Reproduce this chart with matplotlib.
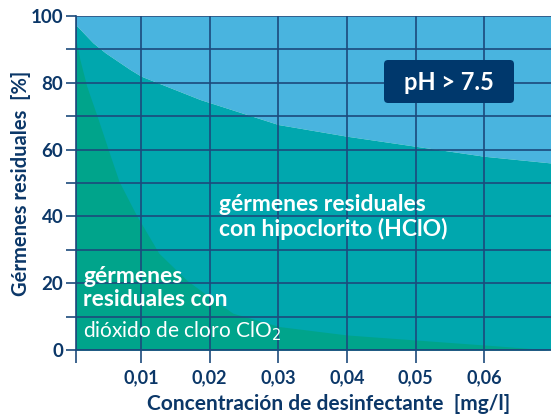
import matplotlib.pyplot as plt
from matplotlib.patches import FancyBboxPatch

plt.rcParams['font.family'] = ['Lato', 'DejaVu Sans']

# hypochlorite (HClO) curve
hclo_x = [0.00054, 0.0030, 0.0048, 0.0084, 0.010, 0.0186, 0.030, 0.040, 0.050, 0.060, 0.0697]
hclo_y = [97.3, 92, 89, 84, 82, 75, 67.5, 64, 61, 58, 56]

# chlorine dioxide (ClO2) curve
clo2_x = [0.00054, 0.0011, 0.0021, 0.0037, 0.0054, 0.0068, 0.0093, 0.0126, 0.0166,
          0.0199, 0.0234, 0.0302, 0.040, 0.050, 0.060, 0.0697]
clo2_y = [93, 87, 79, 69.5, 59, 50.5, 40.5, 29, 21, 16, 11, 7, 4.5, 3, 1.5, 0]

x_ticks = [0.01, 0.02, 0.03, 0.04, 0.05, 0.06]
x_labels = ['0,01', '0,02', '0,03', '0,04', '0,05', '0,06']

navy = '#0b3768'
line_c = '#1c4a7c'
c_top = '#49b4df'
c_mid = '#00a7ae'
c_low = '#00a48b'

x0, x1 = 0.00054, 0.0697

fig = plt.figure(figsize=(5.51, 4.16), dpi=100)
ax = fig.add_axes([76 / 551, 66 / 416, 1 - 76 / 551, 334 / 416])

ax.fill_between(hclo_x, hclo_y, 100, color=c_top, lw=0)
ax.fill_between(hclo_x, hclo_y, 0, color=c_mid, lw=0)
ax.fill_between(clo2_x, clo2_y, 0, color=c_low, lw=0)

ax.set_xlim(x0, x1)
ax.set_ylim(0, 100)

ax.set_xticks([x0] + x_ticks)
ax.set_xticklabels([''] + x_labels)
ax.set_yticks(range(0, 101, 10))
ax.set_yticklabels([str(v) if v % 20 == 0 else '' for v in range(0, 101, 10)])

ax.grid(True, color=line_c, lw=1.2)
ax.set_axisbelow(False)
for s in ['top', 'right']:
    ax.spines[s].set_visible(False)
for s in ['left', 'bottom']:
    ax.spines[s].set_color(line_c)
    ax.spines[s].set_linewidth(1.2)
ax.tick_params(axis='y', length=7, width=1.2, color=line_c, labelcolor=navy,
               labelsize=13.5, pad=2)
ax.tick_params(axis='x', length=9, width=1.2, color=line_c, labelcolor=navy,
               labelsize=13, pad=5)
for lb in ax.get_yticklabels() + ax.get_xticklabels():
    lb.set_fontweight('bold')

ax.set_xlabel('Concentración de desinfectante  [mg/l]', fontsize=15,
              fontweight='bold', color=navy)
ax.xaxis.set_label_coords((329 - 76) / 475, -(394 - 350) / 334)
ax.set_ylabel('Gérmenes residuales  [%]', fontsize=14.5,
              fontweight='bold', color=navy)
ax.yaxis.set_label_coords(-(76 - 31) / 475, 0.5)

# labels inside the chart
ax.text(0.0214, 39.8, 'gérmenes residuales\ncon hipoclorito (HClO)', color='white',
        fontsize=16.5, fontweight='bold', va='center', ha='left', linespacing=1.2)
ax.text(0.0016, 18.5, 'gérmenes\nresiduales con', color='white',
        fontsize=16.5, fontweight='bold', va='center', ha='left', linespacing=1.1)
ax.text(0.0016, 5.5, 'dióxido de cloro ClO$_2$', color='white',
        fontsize=15, va='center', ha='left')

box = FancyBboxPatch((384 / 551, 313 / 416), 130 / 551, 43 / 416,
                     boxstyle='round,pad=0,rounding_size=0.0075',
                     mutation_aspect=551 / 416, fc='#00386c', ec='none',
                     transform=fig.transFigure, zorder=5)
fig.patches.append(box)
fig.text(449 / 551, 334 / 416, 'pH > 7.5', color='white', fontsize=17,
         fontweight='bold', ha='center', va='center', zorder=6)

fig.savefig('out.png', dpi=100)
